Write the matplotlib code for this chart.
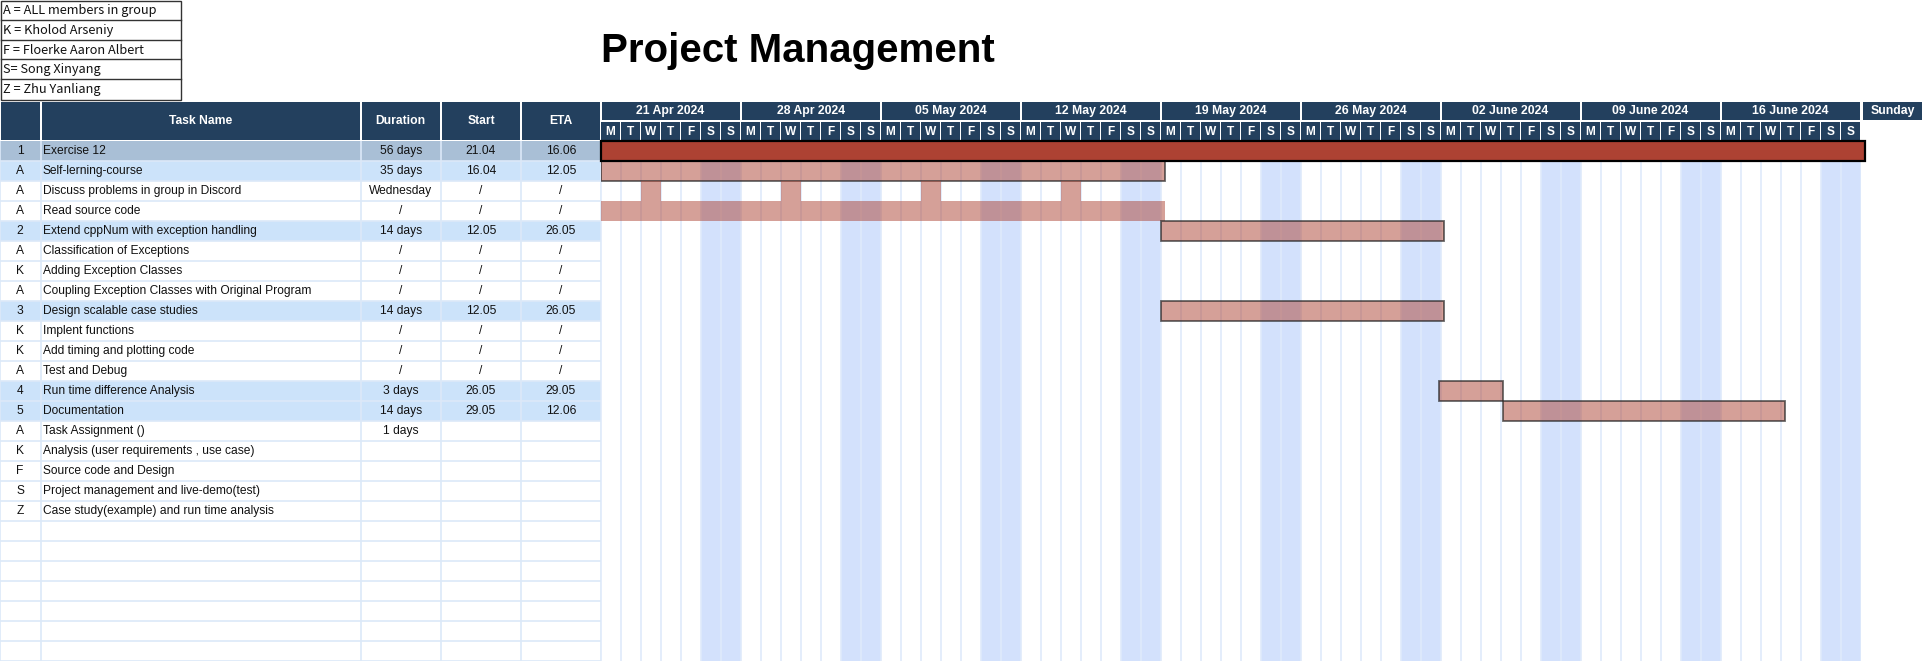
import matplotlib
matplotlib.use('Agg')
import matplotlib.pyplot as plt
from matplotlib.patches import Rectangle
from matplotlib.colors import to_rgba

# who is who in the group
members = ['A = ALL members in group', 'K = Kholod Arseniy', 'F = Floerke Aaron Albert',
           'S= Song Xinyang', 'Z = Zhu Yanliang']

# gantt calendar
week_labels = ['21 Apr 2024', '28 Apr 2024', '05 May 2024', '12 May 2024', '19 May 2024',
               '26 May 2024', '02 June 2024', '09 June 2024', '16 June 2024']
day_letters = ['M', 'T', 'W', 'T', 'F', 'S', 'S']

# task table
col_headers = ['', 'Task Name', 'Duration', 'Start', 'ETA']
task_ids = ['1', 'A', 'A', 'A', '2', 'A', 'K', 'A', '3', 'K', 'K', 'A', '4', '5', 'A',
            'K', 'F', 'S', 'Z']
task_names = ['Exercise 12', 'Self-lerning-course', 'Discuss problems in group in Discord',
              'Read source code', 'Extend cppNum with exception handling',
              'Classification of Exceptions', 'Adding Exception Classes',
              'Coupling Exception Classes with Original Program', 'Design scalable case studies',
              'Implent functions', 'Add timing and plotting code', 'Test and Debug',
              'Run time difference Analysis', 'Documentation', 'Task Assignment ()',
              'Analysis (user requirements , use case)', 'Source code and Design',
              'Project management and live-demo(test)', 'Case study(example) and run time analysis']
durations = ['56 days', '35 days', 'Wednesday', '/', '14 days', '/', '/', '/', '14 days',
             '/', '/', '/', '3 days', '14 days', '1 days', '', '', '', '']
starts = ['21.04', '16.04', '/', '/', '12.05', '/', '/', '/', '12.05', '/', '/', '/',
          '26.05', '29.05', '', '', '', '', '']
etas = ['16.06', '12.05', '/', '/', '26.05', '/', '/', '/', '26.05', '/', '/', '/',
        '29.05', '12.06', '', '', '', '', '']
summary_rows = [1, 4, 8, 12, 13]
n_rows = 26

# bars in day units from the first Monday column
bar_rows = [0, 1, 3, 4, 8, 12, 13]
bar_start = [0, 0, 0, 28, 28, 41.9, 45.12]
bar_end = [63.2, 28.2, 28.2, 42.15, 42.15, 45.12, 59.2]
bar_edged = [True, True, False, True, True, True, True]
meeting_days = [2, 9, 16, 23]  # wednesdays of row 2

# colours
navy = '#23405e'
top_row_col = '#a9bfd6'
summary_col = '#cce3fa'
grid_col = '#dce9f8'
weekend_col = '#d3e1fc'
day_line_col = '#dfeafb'
bar_col = '#ad4233'

plt.rcParams['font.family'] = ['Liberation Sans', 'DejaVu Sans']

W, H = 1922, 662
fig = plt.figure(figsize=(W / 100, H / 100), dpi=100)

col_edges = [0, 40.5, 360.5, 441, 521, 600.6]
n_days = len(week_labels) * 7
y_top = -1.95

# background axes in pixels for legend box and title
ax_bg = fig.add_axes([0, 0, 1, 1])
ax_bg.set_xlim(0, W)
ax_bg.set_ylim(H, 0)
ax_bg.axis('off')

ax_tab = fig.add_axes([0, 1 / H, col_edges[-1] / W, 559 / H])
ax_tab.set_xlim(0, col_edges[-1])
ax_tab.set_ylim(n_rows, y_top)
ax_tab.axis('off')

ax = fig.add_axes([col_edges[-1] / W, 1 / H, n_days * 20 / W, 559 / H])
ax.set_xlim(0, n_days)
ax.set_ylim(n_rows, y_top)
ax.axis('off')

# legend box
row_h = 19.8
ax_bg.add_patch(Rectangle((0.5, 0.5), 180, row_h * len(members), fill=False, ec='#333333', lw=1))
for i, m in enumerate(members):
    if i > 0:
        ax_bg.plot([0.5, 180.5], [row_h * i, row_h * i], color='#333333', lw=1)
    ax_bg.text(3, row_h * i + row_h / 2 + 0.5, m, ha='left', va='center', fontsize=9.2,
               family=['Noto Sans CJK SC', 'DejaVu Sans'], color='#111111')

ax_bg.text(798, 51, 'Project Management', ha='center', va='center', fontsize=29,
           fontweight='bold', color='black')

# table
for r in summary_rows:
    ax_tab.add_patch(Rectangle((0, r), col_edges[-1], 1, color=summary_col, lw=0))
ax_tab.add_patch(Rectangle((0, 0), col_edges[-1], 1, color=top_row_col, lw=0))
ax_tab.hlines(range(1, n_rows + 1), 0, col_edges[-1], color=grid_col, lw=1.2)
ax_tab.vlines(col_edges, 0, n_rows, color=grid_col, lw=1.2)

for i, h in enumerate(col_headers):
    x0, x1 = col_edges[i], col_edges[i + 1]
    ax_tab.add_patch(Rectangle((x0 + 1, y_top), x1 - x0 - 2, -y_top - 0.05, color=navy, lw=0))
    ax_tab.text((x0 + x1) / 2, y_top / 2, h, ha='center', va='center', color='white',
                fontsize=8.7, fontweight='bold')

text_kw = dict(va='center', fontsize=8.65, color='#111111')
for r in range(len(task_names)):
    y = r + 0.52
    ax_tab.text(20, y, task_ids[r], ha='center', **text_kw)
    ax_tab.text(43, y, task_names[r], ha='left', **text_kw)
    ax_tab.text(400.8, y, durations[r], ha='center', **text_kw)
    ax_tab.text(481, y, starts[r], ha='center', **text_kw)
    ax_tab.text(561, y, etas[r], ha='center', **text_kw)

# gantt header
for w, lab in enumerate(week_labels):
    ax.add_patch(Rectangle((w * 7 + 0.05, y_top), 6.9, 0.92, color=navy, lw=0))
    ax.text(w * 7 + 3.5, y_top + 0.47, lab, ha='center', va='center', color='white',
            fontsize=8.8, fontweight='bold')
for d in range(n_days):
    ax.add_patch(Rectangle((d + 0.04, -0.97), 0.92, 0.95, color=navy, lw=0))
    ax.text(d + 0.5, -0.47, day_letters[d % 7], ha='center', va='center', color='white',
            fontsize=8.6, fontweight='bold')
ax.add_patch(Rectangle((n_days + 0.1, y_top), 3.0, 0.92, color=navy, lw=0, clip_on=False))
ax.text(n_days + 1.6, y_top + 0.47, 'Sunday', ha='center', va='center', color='white',
        fontsize=8.8, fontweight='bold', clip_on=False)

# weekends and day lines
weekend_days = [d for d in range(n_days) if d % 7 >= 5]
ax.bar(weekend_days, n_rows, bottom=0, width=1, align='edge', color=weekend_col, lw=0, zorder=1)
ax.vlines(range(n_days + 1), 0, n_rows, color=day_line_col, lw=1.2, zorder=2)

# bars
for row, s, e, edged in zip(bar_rows, bar_start, bar_end, bar_edged):
    if row == 0:
        ax.barh(row, e - s, left=s, height=1, align='edge', color=bar_col,
                edgecolor='black', lw=1.6, zorder=4, clip_on=False)
    elif edged:
        ax.barh(row, e - s, left=s, height=1, align='edge', color=to_rgba(bar_col, 0.5),
                edgecolor=(0.15, 0.15, 0.15, 0.7), lw=1.3, zorder=3)
    else:
        ax.barh(row, e - s, left=s, height=1, align='edge', color=to_rgba(bar_col, 0.5),
                lw=0, zorder=3)
ax.barh([2] * len(meeting_days), 1, left=meeting_days, height=1, align='edge',
        color=to_rgba(bar_col, 0.5), lw=0, zorder=3)

fig.savefig('out.png', dpi=100)
